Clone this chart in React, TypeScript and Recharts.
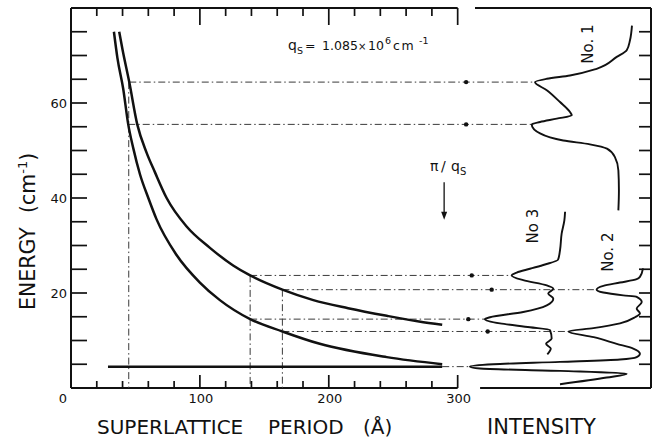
import { LineChart, Line, XAxis, YAxis, ReferenceLine, ReferenceDot } from "recharts"

const FONT = "'DejaVu Sans', sans-serif"
const INK = "#111"
const GUIDE = "#3a3a3a"
const DASH = "7 3 1.5 3"

// one period axis runs under both panels (300 Å ends the left panel),
// the intensity axis is reversed (0 at the right frame), arbitrary units
const P_MAX = 450
const I_MAX = 320
const E_MAX = 80

const periodTicks = [0, 20, 40, 60, 80, 100, 120, 140, 160, 180, 200, 220, 240, 260, 280, 300]
const periodLabels = [0, 100, 200, 300]
const energyTicks = [0, 5, 10, 15, 20, 25, 30, 35, 40, 45, 50, 55, 60, 65, 70, 75]
const energyLabels = [20, 40, 60]

// dispersion branches: [period Å, energy cm-1]
const upperBranch = [
  [37.4, 75.0], [40, 71.2], [45.2, 64.4], [51.4, 55.5], [58.7, 49.5], [65, 45.5],
  [74.2, 40.0], [89.7, 34.0], [107.8, 29.5], [125.8, 25.8], [139, 23.7], [164, 20.7],
  [188, 18.5], [215, 16.8], [245, 15.2], [270, 14.0], [288, 13.3],
]
const lowerBranch = [
  [33.3, 75.0], [36, 69.5], [40.5, 63.0], [44.4, 55.5], [48.3, 50.5], [53.5, 45.0],
  [60, 40.0], [66.4, 35.5], [81.9, 28.0], [100, 22.2], [115.5, 18.5], [139, 14.5],
  [164, 11.9], [193, 9.3], [245, 6.5], [288, 5.0],
]
const flatBranch = [[28.7, 4.5], [288, 4.5]]

// spectra: [intensity, energy cm-1]
const spectrumNo1 = [
  [10.5, 76.3], [11.6, 73.2], [13.4, 71.1], [18.9, 69.7], [30.0, 67.2], [44.7, 65.8],
  [57.5, 65.1], [64.0, 64.4], [57.5, 62.7], [50.2, 60.2], [44.7, 58.1], [43.7, 57.4],
  [52.0, 56.7], [61.2, 56.0], [65.8, 55.5], [61.2, 53.6], [48.4, 52.1], [33.7, 51.3],
  [24.3, 50.4], [19.9, 48.6], [18.0, 45.8], [17.7, 41.6], [18.0, 37.4],
]
const spectrumNo2 = [
  [4.4, 25.2], [6.1, 23.4], [7.9, 22.9], [17.1, 22.2], [26.3, 21.5], [30.0, 20.7],
  [26.3, 20.1], [15.3, 19.5], [7.9, 19.2], [5.1, 18.1], [7.9, 16.7], [6.1, 15.7],
  [8.8, 14.9], [17.1, 13.6], [31.8, 12.6], [45.6, 11.9], [31.6, 10.7], [18.9, 9.3],
  [9.8, 8.3], [6.1, 7.2], [7.9, 6.5], [17.1, 6.0], [50.2, 5.5], [87.0, 5.0],
  [99.9, 4.5], [94.3, 4.1], [50.2, 3.6], [13.4, 3.0], [24.4, 2.2], [50.2, 0.8],
]
const spectrumNo3 = [
  [47.4, 37.1], [47.8, 35.3], [49.3, 32.5], [50.2, 29.0], [51.3, 27.0], [58.5, 26.0],
  [66.8, 25.1], [74.1, 24.3], [76.9, 23.7], [70.5, 22.7], [57.5, 21.6], [53.9, 20.9],
  [56.7, 19.9], [53.9, 18.8], [57.5, 17.4], [70.5, 16.0], [88.8, 14.9], [91.6, 14.5],
  [83.3, 13.6], [66.8, 12.8], [55.7, 12.2], [54.8, 10.4], [57.9, 9.3], [55.3, 8.3],
  [57.2, 7.1],
]

// guide lines from the branches to the spectral peaks
const peakEnergy = [64.4, 55.5, 23.7, 20.7, 14.5, 11.9, 4.5]
const peakStart = [45.2, 44.4, 139, 164, 139, 164, 288]
const peakEnd = [64.0, 65.8, 76.9, 30.0, 91.6, 45.6, 99.9]
const markerI = [102, 102, 98.9, 87.9, 100.8, 90.1]
const dropPeriod = [44.8, 139, 164]
const dropTop = [64.4, 23.7, 20.7]

// pi / q_s = 289.5 Å
const piOverQs = 289.5

// where the right panel's top and bottom frame lines start (intensity units)
const rightTopStart = 97.1
const rightBottomStart = 94.3

// both x axes share the plot width, so an intensity maps linearly onto the period axis
const iToP = (i: number) => P_MAX * (1 - i / I_MAX)

const asPE = (rows: number[][]) => rows.map(([p, e]) => ({ p, e }))
const asIE = (rows: number[][]) => rows.map(([i, e]) => ({ i, e }))

function EnergyTick({ x, y, payload }: any) {
  const v = payload.value
  return (
    <g>
      {v > 0 && <path d={`M${x},${y}h16`} stroke={INK} strokeWidth={1.7} fill="none" />}
      {energyLabels.includes(v) && (
        <text x={x - 4} y={y + 5} textAnchor="end" fontSize={13} fontFamily={FONT} fill={INK}>
          {v}
        </text>
      )}
    </g>
  )
}

function RightTick({ x, y, payload }: any) {
  if (payload.value === 0) return <g />
  return <path d={`M${x - 12},${y}h12`} stroke={INK} strokeWidth={1.7} fill="none" />
}

function PeriodTick({ x, y, payload }: any) {
  const v = payload.value
  const major = v % 100 === 0
  return (
    <g>
      {v > 0 && <path d={`M${x},${y}v${-(major ? 13 : 7)}`} stroke={INK} strokeWidth={1.7} fill="none" />}
      {periodLabels.includes(v) && (
        <text x={v === 0 ? x - 8 : x + 1} y={y + 15} textAnchor="middle" fontSize={13} fontFamily={FONT} fill={INK}>
          {v}
        </text>
      )}
    </g>
  )
}

function TopTick({ x, y, payload }: any) {
  const v = payload.value
  if (v === 0) return <g />
  return <path d={`M${x},${y}v${v % 100 === 0 ? 17 : 8}`} stroke={INK} strokeWidth={1.7} fill="none" />
}

function BottomTitle(props: any) {
  const { x, y } = props.viewBox
  return (
    <text y={y + 46} fontSize={20} fontFamily={FONT} fill={INK}>
      <tspan x={x + 26}>SUPERLATTICE</tspan>
      <tspan x={x + 197}>PERIOD</tspan>
      <tspan x={x + 292}>(Å)</tspan>
      <tspan x={x + 416} fontSize={21}>INTENSITY</tspan>
    </text>
  )
}

function EnergyTitle(props: any) {
  const { x, y } = props.viewBox
  const bx = x + 35
  const by = y + 302
  return (
    <text transform="rotate(-90)" y={bx} fontSize={20.5} fontFamily={FONT} fill={INK}>
      <tspan x={-by}>ENERGY</tspan>
      <tspan x={-by + 97}>(cm</tspan>
      <tspan dy={-8} fontSize={13}>-1</tspan>
      <tspan dy={8}>)</tspan>
    </text>
  )
}

const qsNote = (props: any) => {
  const { x, y } = props.viewBox
  return (
    <text y={y} fontSize={12.5} fontFamily={FONT} fill={INK}>
      <tspan x={x} fontSize={14}>q</tspan>
      <tspan x={x + 9} dy={4} fontSize={9.5}>S</tspan>
      <tspan x={x + 17} dy={-4}>=</tspan>
      <tspan x={x + 34}>1.085</tspan>
      <tspan x={x + 70} fontSize={10}>×</tspan>
      <tspan x={x + 80}>10</tspan>
      <tspan x={x + 97} dy={-6} fontSize={9.5}>6</tspan>
      <tspan x={x + 105} dy={6} letterSpacing={1.5}>cm</tspan>
      <tspan x={x + 131} dy={-6} fontSize={9.5}>-1</tspan>
    </text>
  )
}

const piNote = (props: any) => {
  const { x, y } = props.viewBox
  return (
    <text y={y} fontSize={14} fontFamily={FONT} fill={INK}>
      <tspan x={x}>π</tspan>
      <tspan x={x + 11}>/</tspan>
      <tspan x={x + 21}>q</tspan>
      <tspan x={x + 30} dy={4} fontSize={10}>S</tspan>
    </text>
  )
}

const upright = (label: string) => (props: any) => {
  const { x, y } = props.viewBox
  return (
    <text x={x} y={y} transform={`rotate(-90 ${x} ${y})`} textAnchor="middle" fontSize={15} fontFamily={FONT} fill={INK}>
      {label}
    </text>
  )
}

const spectrumLabels = [
  { text: "No. 1", i: 32.0, e: 72.4 },
  { text: "No 3", i: 62.3, e: 34.1 },
  { text: "No. 2", i: 21.0, e: 28.6 },
]

const nothing = () => <g />

const frameProps = {
  stroke: INK,
  strokeWidth: 2,
  dot: false,
  activeDot: false,
  isAnimationActive: false,
  type: "linear" as const,
  dataKey: "e",
}

export default function App() {
  return (
    <div style={{ position: "absolute", left: 0, top: 0 }}>
      <LineChart width={653} height={439} margin={{ top: 7, right: 1, bottom: 0, left: 0 }} style={{ fontFamily: FONT }}>
        <XAxis xAxisId="i" dataKey="i" type="number" domain={[0, I_MAX]} reversed hide height={0} />
        <XAxis
          xAxisId="p"
          dataKey="p"
          type="number"
          domain={[0, P_MAX]}
          ticks={periodTicks}
          interval={0}
          height={51}
          axisLine={false}
          tickLine={false}
          tickSize={0}
          tickMargin={0}
          tick={<PeriodTick />}
          label={BottomTitle}
        />
        <XAxis
          xAxisId="top"
          orientation="top"
          dataKey="p"
          type="number"
          domain={[0, P_MAX]}
          ticks={periodTicks}
          interval={0}
          height={1}
          axisLine={false}
          tickLine={false}
          tickSize={0}
          tickMargin={0}
          tick={<TopTick />}
        />
        <YAxis
          yAxisId="e"
          type="number"
          domain={[0, E_MAX]}
          ticks={energyTicks}
          interval={0}
          width={71}
          axisLine={{ stroke: INK, strokeWidth: 2 }}
          tickLine={false}
          tickSize={0}
          tickMargin={0}
          tick={<EnergyTick />}
          label={EnergyTitle}
        />
        <YAxis
          yAxisId="r"
          orientation="right"
          type="number"
          domain={[0, E_MAX]}
          ticks={energyTicks}
          interval={0}
          width={1}
          axisLine={{ stroke: INK, strokeWidth: 2 }}
          tickLine={false}
          tickSize={0}
          tickMargin={0}
          tick={<RightTick />}
        />

        {/* panel frames */}
        <Line {...frameProps} xAxisId="top" yAxisId="e" data={[{ p: 0, e: E_MAX }, { p: 300, e: E_MAX }]} />
        <Line {...frameProps} xAxisId="p" yAxisId="e" data={[{ p: 0, e: 0 }, { p: 300, e: 0 }]} />
        <Line {...frameProps} xAxisId="i" yAxisId="r" data={[{ i: rightTopStart, e: E_MAX }, { i: 0, e: E_MAX }]} />
        <Line {...frameProps} xAxisId="i" yAxisId="r" data={[{ i: rightBottomStart, e: 0 }, { i: 0, e: 0 }]} />

        {/* guide lines */}
        {peakEnergy.map((e, k) => (
          <ReferenceLine
            key={`h${k}`}
            xAxisId="p"
            yAxisId="e"
            segment={[{ x: peakStart[k], y: e }, { x: iToP(peakEnd[k]), y: e }]}
            stroke={GUIDE}
            strokeWidth={1}
            strokeDasharray={DASH}
          />
        ))}
        {dropPeriod.map((p, k) => (
          <ReferenceLine
            key={`v${k}`}
            xAxisId="p"
            yAxisId="e"
            segment={[{ x: p, y: dropTop[k] }, { x: p, y: 0 }]}
            stroke={GUIDE}
            strokeWidth={1}
            strokeDasharray={DASH}
            ifOverflow="visible"
          />
        ))}
        {markerI.map((i, k) => (
          <ReferenceDot key={`m${k}`} xAxisId="i" yAxisId="e" x={i} y={peakEnergy[k]} r={2.2} fill={INK} stroke="none" />
        ))}

        {/* pi / q_s arrow */}
        <ReferenceLine xAxisId="p" yAxisId="e" segment={[{ x: piOverQs, y: 43.3 }, { x: piOverQs, y: 36.5 }]} stroke={INK} strokeWidth={1.3} />
        <ReferenceDot
          xAxisId="p"
          yAxisId="e"
          x={piOverQs}
          y={35.4}
          r={1}
          shape={(p: any) => <polygon points={`${p.cx - 3},${p.cy - 8} ${p.cx + 3},${p.cy - 8} ${p.cx},${p.cy}`} fill={INK} />}
        />

        {/* dispersion branches */}
        {[upperBranch, lowerBranch, flatBranch].map((b, k) => (
          <Line
            key={`b${k}`}
            xAxisId="p"
            yAxisId="e"
            data={asPE(b)}
            dataKey="e"
            type="monotone"
            stroke={INK}
            strokeWidth={2.5}
            dot={false}
            activeDot={false}
            isAnimationActive={false}
          />
        ))}

        {/* spectra */}
        {[spectrumNo1, spectrumNo2, spectrumNo3].map((s, k) => (
          <Line
            key={`s${k}`}
            xAxisId="i"
            yAxisId="e"
            data={asIE(s)}
            dataKey="e"
            type="monotoneY"
            stroke={INK}
            strokeWidth={1.9}
            dot={false}
            activeDot={false}
            isAnimationActive={false}
          />
        ))}

        {/* annotations */}
        <ReferenceDot xAxisId="p" yAxisId="e" x={168.4} y={71.2} r={0} shape={nothing} label={qsNote} />
        <ReferenceDot xAxisId="p" yAxisId="e" x={278.5} y={45.7} r={0} shape={nothing} label={piNote} />
        {spectrumLabels.map((s) => (
          <ReferenceDot key={s.text} xAxisId="i" yAxisId="e" x={s.i} y={s.e} r={0} shape={nothing} label={upright(s.text)} />
        ))}
      </LineChart>
    </div>
  )
}
